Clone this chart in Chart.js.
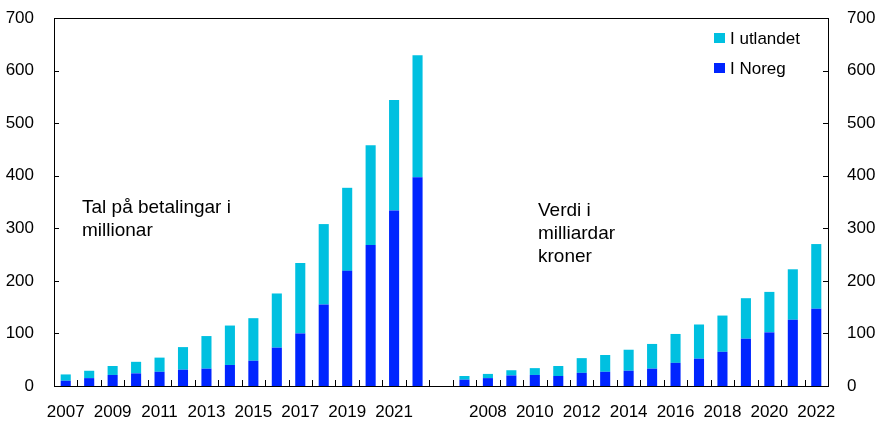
<!DOCTYPE html>
<html>
<head>
<meta charset="utf-8">
<script src="https://cdn.jsdelivr.net/npm/chart.js@4.4.0/dist/chart.umd.min.js"></script>
<style>
  html, body { margin: 0; padding: 0; background: #fff; }
  #wrap { width: 880px; height: 421px; position: relative; }
</style>
</head>
<body>
<div id="wrap"><canvas id="chart" width="880" height="421"></canvas></div>
<script>
// years shown in both panels
const years = [2007, 2008, 2009, 2010, 2011, 2012, 2013, 2014, 2015, 2016, 2017, 2018, 2019, 2020, 2021, 2022];

// left panel: number of payments, millions
const countNoreg = [10, 15, 21, 24, 27, 31, 33, 40, 48, 73, 100, 155, 219, 268, 334, 397];
const countUtland = [12, 14, 17, 22, 27, 43, 62, 75, 81, 103, 134, 153, 158, 190, 210, 232];

// right panel: value, billion NOK
const valueNoreg = [12, 15, 20, 21, 19, 25, 27, 29, 33, 44, 52, 65, 90, 102, 126, 147];
const valueUtland = [7, 8, 10, 13, 19, 28, 32, 40, 47, 55, 65, 69, 77, 77, 96, 123];

const yTicks = [0, 100, 200, 300, 400, 500, 600, 700];

const blue = '#0025FF';
const cyan = '#00C0E0';
const font = 'Liberation Sans, Arial, sans-serif';

// one empty slot between the two panels
const labels = [...years.map(String), '', ...years.map(String)];
const noregData = [...countNoreg, null, ...valueNoreg];
const utlandData = [...countUtland, null, ...valueUtland];

const framePlugin = {
    id: 'frame',
    afterDraw(chart) {
        const { ctx, chartArea: a, scales } = chart;
        const x = scales.x;
        const y = scales.y;
        ctx.save();
        ctx.strokeStyle = '#000';
        ctx.lineWidth = 1;
        ctx.strokeRect(Math.round(a.left) + 0.5, Math.round(a.top) + 0.5,
            Math.round(a.right - a.left), Math.round(a.bottom - a.top));
        ctx.beginPath();
        // inside tick marks on both value axes
        yTicks.forEach(v => {
            const py = Math.round(y.getPixelForValue(v)) + 0.5;
            ctx.moveTo(a.left, py); ctx.lineTo(a.left + 5, py);
            ctx.moveTo(a.right - 5, py); ctx.lineTo(a.right, py);
        });
        // tick marks between categories
        for (let i = 0; i < labels.length - 1; i++) {
            const px = Math.round((x.getPixelForValue(i) + x.getPixelForValue(i + 1)) / 2) + 0.5;
            ctx.moveTo(px, a.bottom); ctx.lineTo(px, a.bottom - 6);
        }
        ctx.stroke();

        // legend
        ctx.fillStyle = cyan;
        ctx.fillRect(a.right - 114, a.top + 15, 11, 10);
        ctx.fillStyle = blue;
        ctx.fillRect(a.right - 114, a.top + 45, 11, 10);
        ctx.fillStyle = '#000';
        ctx.font = '17px ' + font;
        ctx.textBaseline = 'alphabetic';
        ctx.fillText('I utlandet', a.right - 98, a.top + 26);
        ctx.fillText('I Noreg', a.right - 98, a.top + 56);

        // panel captions
        ctx.font = '19px ' + font;
        ctx.fillText('Tal på betalingar i', a.left + 28, 213);
        ctx.fillText('millionar', a.left + 28, 236);
        ctx.fillText('Verdi i', a.left + 484, 216);
        ctx.fillText('milliardar', a.left + 484, 239);
        ctx.fillText('kroner', a.left + 484, 262);
        ctx.restore();
    }
};

function fitY(width) {
    return s => { s.width = width; s.paddingTop = 0; s.paddingBottom = 0; };
}

new Chart(document.getElementById('chart'), {
    type: 'bar',
    data: {
        labels: labels,
        datasets: [
            { label: 'I Noreg', data: noregData, backgroundColor: blue, barPercentage: 0.43, categoryPercentage: 1 },
            { label: 'I utlandet', data: utlandData, backgroundColor: cyan, barPercentage: 0.43, categoryPercentage: 1 }
        ]
    },
    options: {
        responsive: false,
        animation: false,
        layout: { padding: { top: 18, left: 0, right: 0, bottom: 0 } },
        plugins: { legend: { display: false }, tooltip: { enabled: false } },
        scales: {
            x: {
                stacked: true,
                grid: { display: false, drawTicks: false },
                border: { display: false },
                afterFit: s => { s.height = 35; s.paddingLeft = 0; s.paddingRight = 0; },
                ticks: {
                    autoSkip: false,
                    maxRotation: 0,
                    padding: 16,
                    color: '#000',
                    font: { family: font, size: 17 },
                    callback: function (val, i) {
                        if (i < 16) return years[i] % 2 === 1 ? String(years[i]) : '';
                        if (i > 16) return years[i - 17] % 2 === 0 ? String(years[i - 17]) : '';
                        return '';
                    }
                }
            },
            y: {
                stacked: true,
                position: 'left',
                min: 0, max: 700,
                grid: { display: false, drawTicks: false },
                border: { display: false },
                afterFit: fitY(54),
                ticks: { stepSize: 100, padding: 20, color: '#000', font: { family: font, size: 17 } }
            },
            y2: {
                position: 'right',
                min: 0, max: 700,
                grid: { display: false, drawTicks: false },
                border: { display: false },
                afterFit: fitY(52),
                ticks: { stepSize: 100, padding: 19, color: '#000', font: { family: font, size: 17 } }
            }
        }
    },
    plugins: [framePlugin]
});
</script>
</body>
</html>
